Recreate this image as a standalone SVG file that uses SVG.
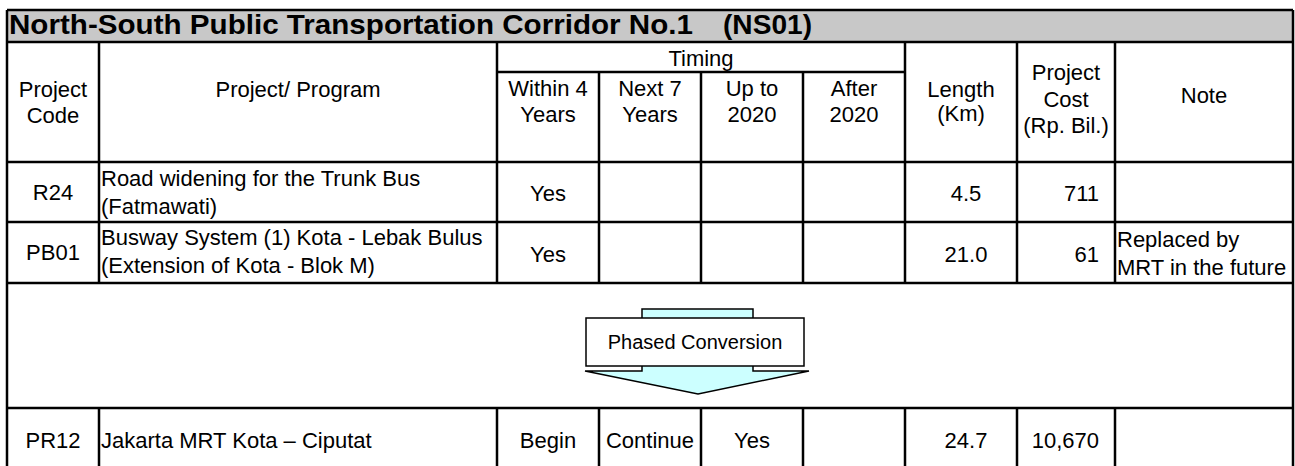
<svg xmlns="http://www.w3.org/2000/svg" width="1295" height="466" viewBox="0 0 1295 466">
<style>
.t{font-family:"Liberation Sans",Arial,sans-serif;font-size:22px;fill:#000}
.c{text-anchor:middle}
.r{text-anchor:end}
.ttl{font-family:"Liberation Sans",Arial,sans-serif;font-size:27px;font-weight:bold;fill:#000}
.ln{stroke:#000;stroke-width:2.5;fill:none}
</style>
<rect x="0" y="0" width="1295" height="466" fill="#fff"/>
<g id="title">
<rect x="7" y="10" width="1286" height="32" fill="#c8c8c8"/>
<text class="ttl" x="9" y="34" textLength="684" lengthAdjust="spacingAndGlyphs">North-South Public Transportation Corridor No.1</text>
<text class="ttl" x="723" y="34" textLength="89" lengthAdjust="spacingAndGlyphs">(NS01)</text>
</g>
<g id="grid">
<path class="ln" d="M7,10 H1293 M7,42 H1293 M497,72 H905 M7,162 H1293 M7,222 H1293 M7,283 H1293 M7,408 H1293"/>
<path class="ln" d="M7,10 V466 M1293,10 V466"/>
<path class="ln" d="M99,42 V283 M497,42 V283 M905,42 V283 M1017,42 V283 M1115,42 V283 M599,72 V283 M701,72 V283 M803,72 V283"/>
<path class="ln" d="M99,408 V466 M497,408 V466 M599,408 V466 M701,408 V466 M803,408 V466 M905,408 V466 M1017,408 V466 M1115,408 V466"/>
</g>
<g id="header">
<text class="t c" x="53" y="97">Project</text>
<text class="t c" x="53" y="123">Code</text>
<text class="t c" x="298" y="97">Project/ Program</text>
<text class="t c" x="701" y="66">Timing</text>
<text class="t c" x="548" y="96">Within 4</text>
<text class="t c" x="548" y="122">Years</text>
<text class="t c" x="650" y="96">Next 7</text>
<text class="t c" x="650" y="122">Years</text>
<text class="t c" x="752" y="96">Up to</text>
<text class="t c" x="752" y="122">2020</text>
<text class="t c" x="854" y="96">After</text>
<text class="t c" x="854" y="122">2020</text>
<text class="t c" x="961" y="97">Length</text>
<text class="t c" x="961" y="121">(Km)</text>
<text class="t c" x="1066" y="80">Project</text>
<text class="t c" x="1066" y="107">Cost</text>
<text class="t c" x="1066" y="133">(Rp. Bil.)</text>
<text class="t c" x="1204" y="103">Note</text>
</g>
<g id="row-R24">
<text class="t c" x="53" y="200">R24</text>
<text class="t" x="101" y="186">Road widening for the Trunk Bus</text>
<text class="t" x="101" y="214">(Fatmawati)</text>
<text class="t c" x="548" y="201">Yes</text>
<text class="t c" x="966" y="201">4.5</text>
<text class="t r" x="1099" y="201">711</text>
</g>
<g id="row-PB01">
<text class="t c" x="53" y="260">PB01</text>
<text class="t" x="101" y="245">Busway System (1) Kota - Lebak Bulus</text>
<text class="t" x="101" y="273">(Extension of Kota - Blok M)</text>
<text class="t c" x="548" y="262">Yes</text>
<text class="t c" x="966" y="262">21.0</text>
<text class="t r" x="1099" y="262">61</text>
<text class="t" x="1117" y="247">Replaced by</text>
<text class="t" x="1117" y="275">MRT in the future</text>
</g>
<g id="connectors">
<path d="M642,309 H753 V371 H809 L698,394 L585,371 H642 Z" fill="#ccffff" stroke="#000" stroke-width="1.5"/>
</g>
<g id="phased-conversion">
<rect x="586" y="318" width="218" height="48" fill="#fff" stroke="#000" stroke-width="1.5"/>
<text class="t c" x="695" y="349" style="font-size:20px">Phased Conversion</text>
</g>
<g id="row-PR12">
<text class="t c" x="53" y="448">PR12</text>
<text class="t" x="101" y="448">Jakarta MRT Kota – Ciputat</text>
<text class="t c" x="548" y="448">Begin</text>
<text class="t c" x="650" y="448">Continue</text>
<text class="t c" x="752" y="448">Yes</text>
<text class="t c" x="966" y="448">24.7</text>
<text class="t r" x="1099" y="448">10,670</text>
</g>
</svg>
